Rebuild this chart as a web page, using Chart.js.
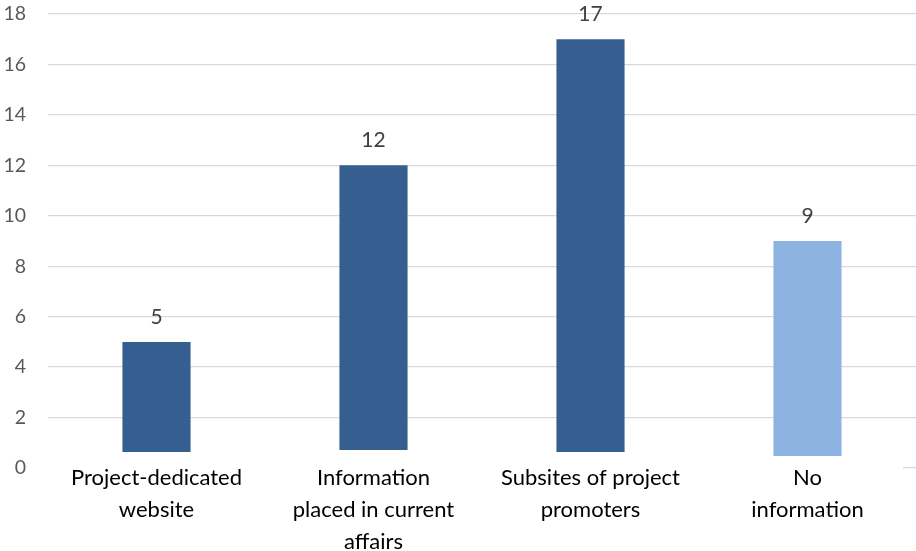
<!DOCTYPE html>
<html>
<head>
<meta charset="utf-8">
<script src="https://cdn.jsdelivr.net/npm/chart.js@4"></script>
<style>
html,body{margin:0;padding:0;background:#fff;}
#wrap{width:916px;height:551px;position:relative;}
</style>
</head>
<body>
<div id="wrap"><canvas id="c" width="916" height="551"></canvas></div>
<script>
const categories = [
  ["Project-dedicated", "website"],
  ["Information", "placed in current", "affairs"],
  ["Subsites of project", "promoters"],
  ["No", "information"]
];
const values = [5, 12, 17, 9];
const barColors = ["#365F91", "#365F91", "#365F91", "#8DB3E2"];
const yTicks = [0, 2, 4, 6, 8, 10, 12, 14, 16, 18];

const FONT = "Lato, 'Open Sans', sans-serif";
// label boxes hide the bottom of each bar (offset in px above the zero line)
const coverOffset = [16, 18, 16, 12];

const labelBoxes = {
  id: 'labelBoxes',
  afterDatasetsDraw(chart) {
    const ctx = chart.ctx;
    const meta = chart.getDatasetMeta(0);
    const y0 = chart.scales.y.getPixelForValue(0);
    const area = chart.chartArea;
    ctx.save();
    ctx.fillStyle = "#ffffff";
    ctx.fillRect(area.left, y0 - 2, area.right - area.left - 13, 4);
    meta.data.forEach((el, i) => {
      const w = el.width + 4;
      ctx.fillRect(el.x - w / 2, y0 - coverOffset[i], w, chart.height - (y0 - coverOffset[i]));
    });
    ctx.font = "21px " + FONT;
    ctx.fillStyle = "#404040";
    ctx.textAlign = "center";
    ctx.textBaseline = "middle";
    meta.data.forEach((el, i) => {
      ctx.fillText(String(values[i]), el.x, el.y - 25);
    });
    ctx.restore();
  }
};

new Chart(document.getElementById('c'), {
  type: 'bar',
  data: {
    labels: categories,
    datasets: [{
      data: values,
      backgroundColor: barColors,
      borderWidth: 0,
      categoryPercentage: 1,
      barPercentage: 0.314
    }]
  },
  options: {
    responsive: false,
    animation: false,
    devicePixelRatio: 1,
    layout: { padding: { top: 14, right: 0, left: 0, bottom: 0 } },
    plugins: { legend: { display: false }, tooltip: { enabled: false } },
    scales: {
      x: {
        grid: { display: false, drawTicks: false },
        border: { display: false },
        afterFit(s) { s.height = 83; s.paddingLeft = 0; s.paddingRight = 0; },
        ticks: {
          z: 1,
          padding: -6,
          maxRotation: 0,
          autoSkip: false,
          color: "#000000",
          font: { family: FONT, size: 22, lineHeight: 1.45 }
        }
      },
      y: {
        min: 0,
        max: 18,
        afterBuildTicks(s) { s.ticks = yTicks.map(v => ({ value: v })); },
        afterFit(s) { s.width = 48; s.paddingTop = 0; s.paddingBottom = 0; },
        grid: {
          drawTicks: false,
          color: '#d9d9d9',
          lineWidth: 1.3
        },
        border: { display: false },
        ticks: {
          padding: 22,
          color: "#595959",
          font: { family: FONT, size: 19.5 }
        }
      }
    }
  },
  plugins: [labelBoxes]
});
</script>
</body>
</html>
